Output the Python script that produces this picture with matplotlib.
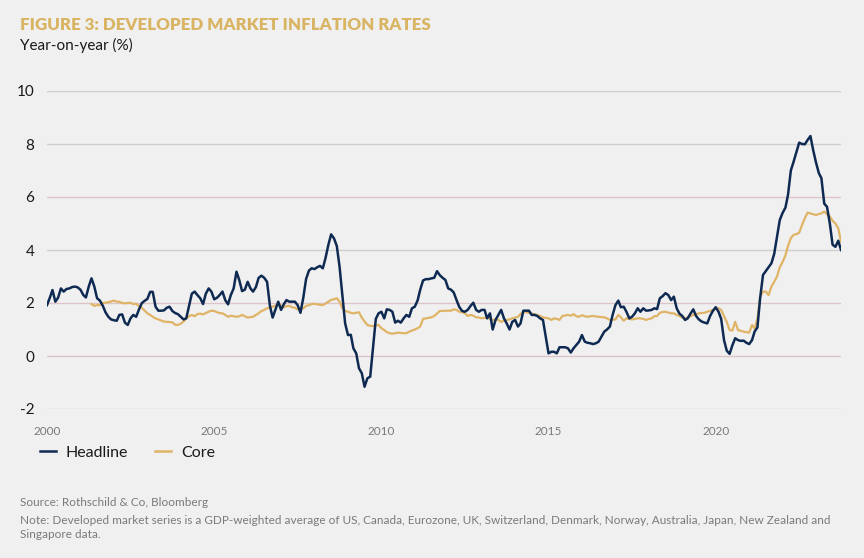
import matplotlib
matplotlib.use("Agg")
import matplotlib.pyplot as plt
import pandas as pd
import numpy as np
from matplotlib.lines import Line2D

# ---------------- data (monthly, year-on-year %) ----------------
headline_2000 = [1.92, 2.2, 2.49, 2.05, 2.2, 2.55, 2.43, 2.53, 2.55, 2.6, 2.62, 2.59]
headline_2001 = [2.5, 2.3, 2.21, 2.62, 2.93, 2.62, 2.18, 2.09, 1.9, 1.65, 1.48, 1.38]
headline_2002 = [1.35, 1.33, 1.55, 1.57, 1.26, 1.17, 1.42, 1.55, 1.48, 1.75, 1.99, 2.08]
headline_2003 = [2.15, 2.42, 2.42, 1.86, 1.71, 1.71, 1.72, 1.82, 1.86, 1.7, 1.62, 1.58]
headline_2004 = [1.48, 1.38, 1.42, 1.9, 2.35, 2.43, 2.3, 2.18, 1.96, 2.35, 2.55, 2.43]
headline_2005 = [2.14, 2.2, 2.3, 2.43, 2.11, 1.95, 2.3, 2.55, 3.18, 2.87, 2.45, 2.5]
headline_2006 = [2.8, 2.55, 2.43, 2.6, 2.95, 3.03, 2.95, 2.8, 1.9, 1.45, 1.75, 2.05]
headline_2007 = [1.74, 1.96, 2.11, 2.05, 2.05, 2.05, 1.92, 1.63, 2.2, 2.9, 3.22, 3.31]
headline_2008 = [3.28, 3.35, 3.4, 3.31, 3.7, 4.2, 4.59, 4.44, 4.15, 3.37, 2.3, 1.23]
headline_2009 = [0.79, 0.8, 0.29, 0.1, -0.46, -0.65, -1.16, -0.84, -0.78, 0.3, 1.4, 1.61]
headline_2010 = [1.67, 1.42, 1.76, 1.74, 1.67, 1.26, 1.33, 1.26, 1.42, 1.55, 1.48, 1.8]
headline_2011 = [1.86, 2.1, 2.5, 2.85, 2.9, 2.9, 2.93, 2.95, 3.2, 3.05, 2.95, 2.87]
headline_2012 = [2.55, 2.5, 2.4, 2.11, 1.85, 1.7, 1.67, 1.74, 1.89, 2.01, 1.74, 1.67]
headline_2013 = [1.74, 1.74, 1.42, 1.61, 1.0, 1.36, 1.55, 1.74, 1.42, 1.23, 1.0, 1.29]
headline_2014 = [1.36, 1.11, 1.23, 1.71, 1.71, 1.71, 1.55, 1.55, 1.51, 1.42, 1.36, 0.73]
headline_2015 = [0.1, 0.16, 0.16, 0.1, 0.33, 0.33, 0.33, 0.29, 0.13, 0.29, 0.42, 0.54]
headline_2016 = [0.79, 0.54, 0.5, 0.48, 0.45, 0.48, 0.54, 0.73, 0.92, 1.0, 1.11, 1.55]
headline_2017 = [1.92, 2.09, 1.84, 1.86, 1.67, 1.42, 1.48, 1.61, 1.8, 1.67, 1.8, 1.71]
headline_2018 = [1.72, 1.74, 1.8, 1.77, 2.18, 2.26, 2.37, 2.3, 2.11, 2.24, 1.8, 1.6]
headline_2019 = [1.51, 1.36, 1.42, 1.6, 1.76, 1.51, 1.38, 1.3, 1.26, 1.23, 1.51, 1.7]
headline_2020 = [1.84, 1.67, 1.4, 0.6, 0.2, 0.08, 0.4, 0.67, 0.6, 0.57, 0.58, 0.5]
headline_2021 = [0.45, 0.6, 0.92, 1.08, 2.2, 3.06, 3.2, 3.35, 3.5, 3.85, 4.5, 5.13]
headline_2022 = [5.4, 5.6, 6.08, 7.0, 7.33, 7.7, 8.05, 8.0, 7.99, 8.15, 8.3, 7.77]
headline_2023 = [7.3, 6.9, 6.71, 5.75, 5.63, 5.0, 4.2, 4.12, 4.35, 4.0]

# Core series starts May 2001
core_2001 = [1.96, 1.89, 1.92, 1.92, 2.0, 2.01, 2.03, 2.06]
core_2002 = [2.09, 2.05, 2.05, 2.0, 1.99, 2.0, 2.01, 1.96, 1.97, 1.88, 1.82, 1.72]
core_2003 = [1.61, 1.55, 1.48, 1.42, 1.38, 1.34, 1.30, 1.29, 1.28, 1.27, 1.18, 1.17]
core_2004 = [1.22, 1.3, 1.42, 1.5, 1.55, 1.5, 1.58, 1.6, 1.57, 1.62, 1.67, 1.71]
core_2005 = [1.7, 1.65, 1.62, 1.61, 1.55, 1.48, 1.52, 1.5, 1.48, 1.5, 1.55, 1.5]
core_2006 = [1.45, 1.47, 1.48, 1.55, 1.61, 1.7, 1.74, 1.8, 1.83, 1.86, 1.9, 1.95]
core_2007 = [1.9, 1.84, 1.88, 1.89, 1.84, 1.82, 1.76, 1.78, 1.8, 1.89, 1.92, 1.96]
core_2008 = [1.97, 1.95, 1.93, 1.92, 1.98, 2.05, 2.12, 2.14, 2.18, 2.05, 1.8, 1.7]
core_2009 = [1.67, 1.63, 1.61, 1.63, 1.65, 1.45, 1.3, 1.17, 1.14, 1.13, 1.15, 1.17]
core_2010 = [1.05, 0.98, 0.9, 0.86, 0.84, 0.86, 0.88, 0.87, 0.86, 0.86, 0.92, 0.96]
core_2011 = [1.0, 1.05, 1.11, 1.4, 1.42, 1.44, 1.46, 1.51, 1.6, 1.70, 1.7, 1.71]
core_2012 = [1.71, 1.71, 1.76, 1.74, 1.67, 1.65, 1.61, 1.51, 1.55, 1.52, 1.46, 1.45]
core_2013 = [1.42, 1.44, 1.46, 1.4, 1.36, 1.38, 1.36, 1.29, 1.33, 1.36, 1.38, 1.42]
core_2014 = [1.45, 1.48, 1.58, 1.67, 1.65, 1.63, 1.6, 1.58, 1.55, 1.51, 1.46, 1.44]
core_2015 = [1.42, 1.36, 1.42, 1.4, 1.36, 1.51, 1.53, 1.55, 1.52, 1.58, 1.5, 1.48]
core_2016 = [1.54, 1.5, 1.48, 1.5, 1.51, 1.49, 1.48, 1.47, 1.46, 1.42, 1.36, 1.37]
core_2017 = [1.38, 1.55, 1.46, 1.33, 1.42, 1.4, 1.38, 1.4, 1.42, 1.42, 1.4, 1.36]
core_2018 = [1.4, 1.42, 1.5, 1.51, 1.63, 1.66, 1.67, 1.64, 1.61, 1.61, 1.55, 1.51]
core_2019 = [1.45, 1.42, 1.46, 1.5, 1.55, 1.58, 1.61, 1.62, 1.63, 1.67, 1.7, 1.74]
core_2020 = [1.78, 1.8, 1.74, 1.5, 1.29, 0.98, 0.96, 1.29, 0.98, 0.95, 0.92, 0.9]
core_2021 = [0.88, 1.17, 1.04, 1.4, 2.24, 2.43, 2.43, 2.3, 2.62, 2.8, 3.0, 3.35]
core_2022 = [3.55, 3.8, 4.15, 4.45, 4.57, 4.6, 4.65, 4.94, 5.2, 5.41, 5.38, 5.35]
core_2023 = [5.32, 5.36, 5.38, 5.45, 5.35, 5.26, 5.1, 5.0, 4.82, 4.31]

headline = (headline_2000 + headline_2001 + headline_2002 + headline_2003 + headline_2004 +
            headline_2005 + headline_2006 + headline_2007 + headline_2008 + headline_2009 +
            headline_2010 + headline_2011 + headline_2012 + headline_2013 + headline_2014 +
            headline_2015 + headline_2016 + headline_2017 + headline_2018 + headline_2019 +
            headline_2020 + headline_2021 + headline_2022 + headline_2023)
core = (core_2001 + core_2002 + core_2003 + core_2004 + core_2005 + core_2006 + core_2007 +
        core_2008 + core_2009 + core_2010 + core_2011 + core_2012 + core_2013 + core_2014 +
        core_2015 + core_2016 + core_2017 + core_2018 + core_2019 + core_2020 + core_2021 +
        core_2022 + core_2023)

headline_dates = pd.date_range("2000-01-01", periods=len(headline), freq="MS")
core_dates = pd.date_range("2001-05-01", periods=len(core), freq="MS")

y_ticks = [-2, 0, 2, 4, 6, 8, 10]
x_tick_years = [2000, 2005, 2010, 2015, 2020]

# ---------------- style ----------------
BG = "#f0f0f0"
NAVY = "#0f2a52"
GOLD = "#e0b466"
TITLE_GOLD = "#d9b463"
GREY_TXT = "#7a7a7a"
FONT = ["Lato", "DejaVu Sans"]
plt.rcParams["font.family"] = FONT

fig = plt.figure(figsize=(8.64, 5.58), dpi=100, facecolor=BG)
ax = fig.add_axes([47 / 864, 1 - 409 / 558, (841 - 47) / 864, (409 - 91) / 558])
ax.set_facecolor(BG)

for v in y_ticks:
    col = "#dcc4c8" if v in (0, 2, 6) else "#cfcfcf"
    ax.axhline(v, color=col, lw=1.0, zorder=1)

ax.plot(core_dates, core, color=GOLD, lw=1.6, zorder=3, solid_joinstyle="round")
ax.plot(headline_dates, headline, color=NAVY, lw=1.8, zorder=4, solid_joinstyle="round")

ax.set_ylim(-2, 10)
ax.set_xlim(headline_dates[0], headline_dates[-1])
ax.set_yticks(y_ticks)
ax.set_yticklabels([str(v) for v in y_ticks], fontsize=11, color="#1a1a1a")
ax.set_xticks([pd.Timestamp(f"{y}-01-01") for y in x_tick_years])
ax.set_xticklabels([str(y) for y in x_tick_years], fontsize=8.5, color=GREY_TXT)
ax.tick_params(axis="y", length=0, pad=9)
ax.tick_params(axis="x", length=0, pad=12)
for s in ax.spines.values():
    s.set_visible(False)

# titles
fig.text(20 / 864, 1 - 25 / 558, "FIGURE 3: DEVELOPED MARKET INFLATION RATES",
         fontsize=12.2, fontweight="heavy", color=TITLE_GOLD, va="center", ha="left")
fig.text(20 / 864, 1 - 45 / 558, "Year-on-year (%)", fontsize=11, color="#1a1a1a",
         va="center", ha="left")

# legend
handles = [Line2D([0], [0], color=NAVY, lw=1.8), Line2D([0], [0], color=GOLD, lw=1.8)]
fig.legend(handles, ["Headline", "Core"], loc="center left",
           bbox_to_anchor=(26 / 864, 1 - 453 / 558), ncol=2, frameon=False,
           fontsize=11.5, handlelength=1.0, handletextpad=0.6, columnspacing=1.7,
           labelcolor="#1a1a1a")

# source/note
fig.text(20 / 864, 1 - 503 / 558, "Source: Rothschild & Co, Bloomberg",
         fontsize=8.5, color=GREY_TXT, va="center", ha="left")
fig.text(20 / 864, 1 - 520 / 558,
         "Note: Developed market series is a GDP-weighted average of US, Canada, Eurozone, UK, "
         "Switzerland, Denmark, Norway, Australia, Japan, New Zealand and",
         fontsize=8.5, color=GREY_TXT, va="center", ha="left")
fig.text(20 / 864, 1 - 535 / 558, "Singapore data.",
         fontsize=8.5, color=GREY_TXT, va="center", ha="left")

fig.savefig("out.png", dpi=100, facecolor=BG)
